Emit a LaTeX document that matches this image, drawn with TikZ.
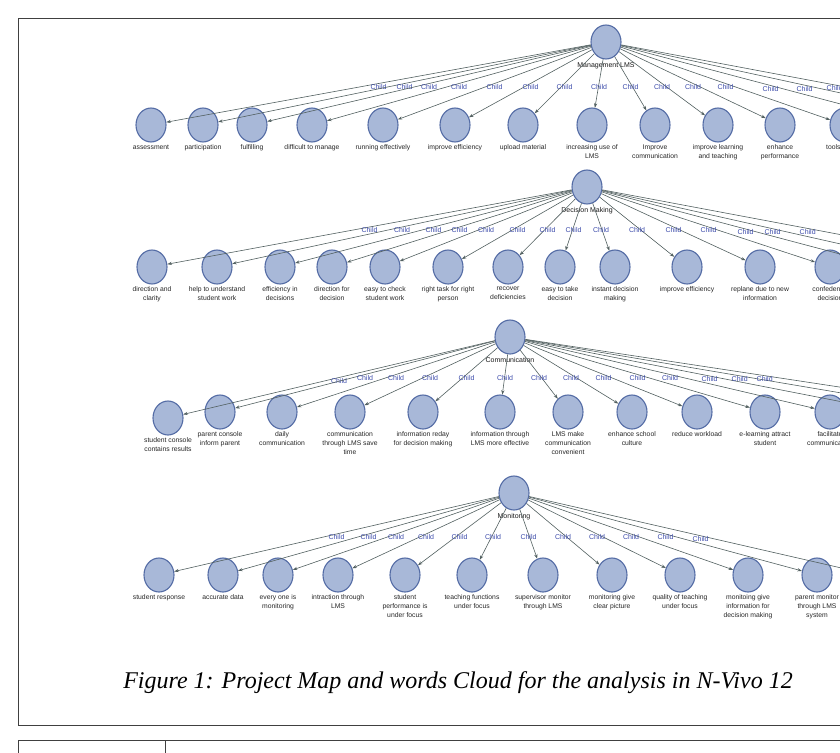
\documentclass[tikz,border=0pt]{standalone}
\usepackage{fontspec}
\setmainfont{Liberation Serif}
\setsansfont{Liberation Sans}
\usetikzlibrary{positioning,shapes.geometric,arrows.meta}
\definecolor{bubblefill}{RGB}{168,184,216}
\definecolor{bubbleedge}{RGB}{84,108,165}
\definecolor{linkgray}{RGB}{82,96,96}
\definecolor{tagblue}{RGB}{60,75,170}

\begin{document}
\begin{tikzpicture}[x=1pt, y=-1pt,
    bubble/.style={ellipse, draw=bubbleedge, fill=bubblefill, line width=1.1pt, minimum width=30pt, minimum height=34pt, inner sep=0pt},
    leaftext/.style={font=\fontsize{6.8}{8.8}\selectfont\sffamily, align=center, inner sep=0pt, text=black!85},
    roottext/.style={font=\fontsize{7}{9}\selectfont\sffamily, inner sep=0pt, text=black!90},
    link/.style={-{Stealth[length=4.5pt, width=3.2pt]}, draw=linkgray, line width=0.6pt},
    childtag/.style={font=\fontsize{7}{8}\selectfont\sffamily, text=tagblue, anchor=north, inner sep=0.5pt}
]
\useasboundingbox (0,0) rectangle (840,752);
\clip (0,0) rectangle (840,752);

% Page frames
\draw[black!75, line width=0.6pt] (18,18) rectangle (860,725);
\draw[black!75, line width=0.6pt] (18,770) -- (18,740) -- (860,740);
\draw[black!75, line width=0.6pt] (165,740) -- (165,770);

% Row 1: Management LMS
\node[bubble] (mgmt) at (606,42) {};
\node[roottext, below=3pt of mgmt] (mgmt-t) {Management LMS};
\node[bubble] (mgmt1) at (151,125) {};
\node[leaftext, below=2pt of mgmt1] (mgmt1-t) {assessment};
\node[bubble] (mgmt2) at (203,125) {};
\node[leaftext, below=2pt of mgmt2] (mgmt2-t) {participation};
\node[bubble] (mgmt3) at (252,125) {};
\node[leaftext, below=2pt of mgmt3] (mgmt3-t) {fulfilling};
\node[bubble] (mgmt4) at (312,125) {};
\node[leaftext, below=2pt of mgmt4] (mgmt4-t) {difficult to manage};
\node[bubble] (mgmt5) at (383,125) {};
\node[leaftext, below=2pt of mgmt5] (mgmt5-t) {running effectively};
\node[bubble] (mgmt6) at (455,125) {};
\node[leaftext, below=2pt of mgmt6] (mgmt6-t) {improve efficiency};
\node[bubble] (mgmt7) at (523,125) {};
\node[leaftext, below=2pt of mgmt7] (mgmt7-t) {upload material};
\node[bubble] (mgmt8) at (592,125) {};
\node[leaftext, below=2pt of mgmt8] (mgmt8-t) {increasing use of\\LMS};
\node[bubble] (mgmt9) at (655,125) {};
\node[leaftext, below=2pt of mgmt9] (mgmt9-t) {Improve\\communication};
\node[bubble] (mgmt10) at (718,125) {};
\node[leaftext, below=2pt of mgmt10] (mgmt10-t) {improve learning\\and teaching};
\node[bubble] (mgmt11) at (780,125) {};
\node[leaftext, below=2pt of mgmt11] (mgmt11-t) {enhance\\performance};
\node[bubble] (mgmt12) at (845,125) {};
\node[leaftext, below=2pt of mgmt12] (mgmt12-t) {tools of LMS};
\coordinate (mgmt13) at (920,125);
\coordinate (mgmt14) at (988,125);
\coordinate (mgmt15) at (1048,125);

% Row 2: Decision Making
\node[bubble] (decide) at (587,187) {};
\node[roottext, below=3pt of decide] (decide-t) {Decision Making};
\node[bubble] (decide1) at (152,267) {};
\node[leaftext, below=2pt of decide1] (decide1-t) {direction and\\clarity};
\node[bubble] (decide2) at (217,267) {};
\node[leaftext, below=2pt of decide2] (decide2-t) {help to understand\\student work};
\node[bubble] (decide3) at (280,267) {};
\node[leaftext, below=2pt of decide3] (decide3-t) {efficiency in\\decisions};
\node[bubble] (decide4) at (332,267) {};
\node[leaftext, below=2pt of decide4] (decide4-t) {direction for\\decision};
\node[bubble] (decide5) at (385,267) {};
\node[leaftext, below=2pt of decide5] (decide5-t) {easy to check\\student work};
\node[bubble] (decide6) at (448,267) {};
\node[leaftext, below=2pt of decide6] (decide6-t) {right task for right\\person};
\node[bubble] (decide7) at (508,267) {};
\node[leaftext, below=2pt of decide7] (decide7-t) {recover\\deficiencies};
\node[bubble] (decide8) at (560,267) {};
\node[leaftext, below=2pt of decide8] (decide8-t) {easy to take\\decision};
\node[bubble] (decide9) at (615,267) {};
\node[leaftext, below=2pt of decide9] (decide9-t) {instant decision\\making};
\node[bubble] (decide10) at (687,267) {};
\node[leaftext, below=2pt of decide10] (decide10-t) {improve efficiency};
\node[bubble] (decide11) at (760,267) {};
\node[leaftext, below=2pt of decide11] (decide11-t) {replane due to new\\information};
\node[bubble] (decide12) at (830,267) {};
\node[leaftext, below=2pt of decide12] (decide12-t) {confedence\\decision};
\coordinate (decide13) at (889,267);
\coordinate (decide14) at (943,267);
\coordinate (decide15) at (1013,267);

% Row 3: Communication
\node[bubble] (comm) at (510,337) {};
\node[roottext, below=3pt of comm] (comm-t) {Communication};
\node[bubble] (comm1) at (168,418) {};
\node[leaftext, below=2pt of comm1] (comm1-t) {student console\\contains results};
\node[bubble] (comm2) at (220,412) {};
\node[leaftext, below=2pt of comm2] (comm2-t) {parent console\\inform parent};
\node[bubble] (comm3) at (282,412) {};
\node[leaftext, below=2pt of comm3] (comm3-t) {daily\\communication};
\node[bubble] (comm4) at (350,412) {};
\node[leaftext, below=2pt of comm4] (comm4-t) {communication\\through LMS save\\time};
\node[bubble] (comm5) at (423,412) {};
\node[leaftext, below=2pt of comm5] (comm5-t) {information reday\\for decision making};
\node[bubble] (comm6) at (500,412) {};
\node[leaftext, below=2pt of comm6] (comm6-t) {information through\\LMS more effective};
\node[bubble] (comm7) at (568,412) {};
\node[leaftext, below=2pt of comm7] (comm7-t) {LMS make\\communication\\convenient};
\node[bubble] (comm8) at (632,412) {};
\node[leaftext, below=2pt of comm8] (comm8-t) {enhance school\\culture};
\node[bubble] (comm9) at (697,412) {};
\node[leaftext, below=2pt of comm9] (comm9-t) {reduce workload};
\node[bubble] (comm10) at (765,412) {};
\node[leaftext, below=2pt of comm10] (comm10-t) {e-learning attract\\student};
\node[bubble] (comm11) at (830,412) {};
\node[leaftext, below=2pt of comm11] (comm11-t) {facilitate\\communication};
\coordinate (comm12) at (894,412);
\coordinate (comm13) at (954,412);
\coordinate (comm14) at (1004,412);

% Row 4: Monitoring
\node[bubble] (monit) at (514,493) {};
\node[roottext, below=3pt of monit] (monit-t) {Monitoring};
\node[bubble] (monit1) at (159,575) {};
\node[leaftext, below=2pt of monit1] (monit1-t) {student response};
\node[bubble] (monit2) at (223,575) {};
\node[leaftext, below=2pt of monit2] (monit2-t) {accurate data};
\node[bubble] (monit3) at (278,575) {};
\node[leaftext, below=2pt of monit3] (monit3-t) {every one is\\monitoring};
\node[bubble] (monit4) at (338,575) {};
\node[leaftext, below=2pt of monit4] (monit4-t) {intraction through\\LMS};
\node[bubble] (monit5) at (405,575) {};
\node[leaftext, below=2pt of monit5] (monit5-t) {student\\performance is\\under focus};
\node[bubble] (monit6) at (472,575) {};
\node[leaftext, below=2pt of monit6] (monit6-t) {teaching functions\\under focus};
\node[bubble] (monit7) at (543,575) {};
\node[leaftext, below=2pt of monit7] (monit7-t) {supervisor monitor\\through LMS};
\node[bubble] (monit8) at (612,575) {};
\node[leaftext, below=2pt of monit8] (monit8-t) {monitoring give\\clear picture};
\node[bubble] (monit9) at (680,575) {};
\node[leaftext, below=2pt of monit9] (monit9-t) {quality of teaching\\under focus};
\node[bubble] (monit10) at (748,575) {};
\node[leaftext, below=2pt of monit10] (monit10-t) {monitoing give\\information for\\decision making};
\node[bubble] (monit11) at (817,575) {};
\node[leaftext, below=2pt of monit11] (monit11-t) {parent monitor\\through LMS\\system};
\coordinate (monit12) at (872,575);

% Links, row 1
\draw[link] (mgmt) -- node[childtag] {Child} (mgmt1);
\draw[link] (mgmt) -- node[childtag] {Child} (mgmt2);
\draw[link] (mgmt) -- node[childtag] {Child} (mgmt3);
\draw[link] (mgmt) -- node[childtag] {Child} (mgmt4);
\draw[link] (mgmt) -- node[childtag] {Child} (mgmt5);
\draw[link] (mgmt) -- node[childtag] {Child} (mgmt6);
\draw[link] (mgmt) -- node[childtag] {Child} (mgmt7);
\draw[link] (mgmt) -- node[childtag] {Child} (mgmt8);
\draw[link] (mgmt) -- node[childtag] {Child} (mgmt9);
\draw[link] (mgmt) -- node[childtag] {Child} (mgmt10);
\draw[link] (mgmt) -- node[childtag] {Child} (mgmt11);
\draw[link] (mgmt) -- node[childtag] {Child} (mgmt12);
\draw[link] (mgmt) -- node[childtag] {Child} (mgmt13);
\draw[link] (mgmt) -- node[childtag] {Child} (mgmt14);
\draw[link] (mgmt) -- node[childtag] {Child} (mgmt15);

% Links, row 2
\draw[link] (decide) -- node[childtag] {Child} (decide1);
\draw[link] (decide) -- node[childtag] {Child} (decide2);
\draw[link] (decide) -- node[childtag] {Child} (decide3);
\draw[link] (decide) -- node[childtag] {Child} (decide4);
\draw[link] (decide) -- node[childtag] {Child} (decide5);
\draw[link] (decide) -- node[childtag] {Child} (decide6);
\draw[link] (decide) -- node[childtag] {Child} (decide7);
\draw[link] (decide) -- node[childtag] {Child} (decide8);
\draw[link] (decide) -- node[childtag] {Child} (decide9);
\draw[link] (decide) -- node[childtag] {Child} (decide10);
\draw[link] (decide) -- node[childtag] {Child} (decide11);
\draw[link] (decide) -- node[childtag] {Child} (decide12);
\draw[link] (decide) -- node[childtag] {Child} (decide13);
\draw[link] (decide) -- node[childtag] {Child} (decide14);
\draw[link] (decide) -- node[childtag] {Child} (decide15);

% Links, row 3
\draw[link] (comm) -- node[childtag] {Child} (comm1);
\draw[link] (comm) -- node[childtag] {Child} (comm2);
\draw[link] (comm) -- node[childtag] {Child} (comm3);
\draw[link] (comm) -- node[childtag] {Child} (comm4);
\draw[link] (comm) -- node[childtag] {Child} (comm5);
\draw[link] (comm) -- node[childtag] {Child} (comm6);
\draw[link] (comm) -- node[childtag] {Child} (comm7);
\draw[link] (comm) -- node[childtag] {Child} (comm8);
\draw[link] (comm) -- node[childtag] {Child} (comm9);
\draw[link] (comm) -- node[childtag] {Child} (comm10);
\draw[link] (comm) -- node[childtag] {Child} (comm11);
\draw[link] (comm) -- node[childtag] {Child} (comm12);
\draw[link] (comm) -- node[childtag] {Child} (comm13);
\draw[link] (comm) -- node[childtag] {Child} (comm14);

% Links, row 4
\draw[link] (monit) -- node[childtag] {Child} (monit1);
\draw[link] (monit) -- node[childtag] {Child} (monit2);
\draw[link] (monit) -- node[childtag] {Child} (monit3);
\draw[link] (monit) -- node[childtag] {Child} (monit4);
\draw[link] (monit) -- node[childtag] {Child} (monit5);
\draw[link] (monit) -- node[childtag] {Child} (monit6);
\draw[link] (monit) -- node[childtag] {Child} (monit7);
\draw[link] (monit) -- node[childtag] {Child} (monit8);
\draw[link] (monit) -- node[childtag] {Child} (monit9);
\draw[link] (monit) -- node[childtag] {Child} (monit10);
\draw[link] (monit) -- node[childtag] {Child} (monit11);
\draw[link] (monit) -- node[childtag] {Child} (monit12);

% Caption
\node[font=\fontsize{24}{28}\selectfont\itshape, inner sep=0pt] (caption) at (458,683) {Figure 1: Project Map and words Cloud for the analysis in N-Vivo 12};

\end{tikzpicture}
\end{document}
